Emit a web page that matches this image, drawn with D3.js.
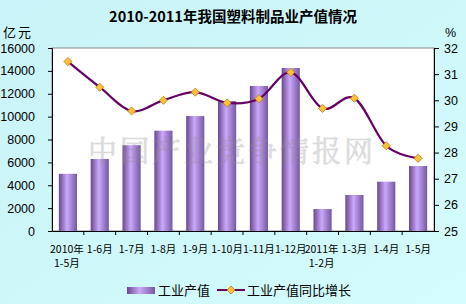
<!DOCTYPE html>
<html>
<head>
<meta charset="utf-8">
<script src="https://cdn.jsdelivr.net/npm/d3@7"></script>
<style>
  html, body { margin: 0; padding: 0; }
  svg { display: block; }
</style>
</head>
<body>
<svg id="chart" width="466" height="304"></svg>
<script>
// *************** DATA ***************
const categories = ["2010年1-5月", "1-6月", "1-7月", "1-8月", "1-9月", "1-10月",
                    "1-11月", "1-12月", "2011年1-2月", "1-3月", "1-4月", "1-5月"];
const outputValues = [5000, 6300, 7500, 8770, 10050, 11360, 12680, 14250, 1920, 3150, 4310, 5680];
const growthValues = [31.48, 30.5, 29.59, 30.0, 30.31, 29.9, 30.06, 31.07, 29.69, 30.08, 28.26, 27.78];
const leftTicks = [0, 2000, 4000, 6000, 8000, 10000, 12000, 14000, 16000];
const rightTicks = [25, 26, 27, 28, 29, 30, 31, 32];
const seriesNames = ["工业产值", "工业产值同比增长"];

// *************** CONSTANTS ***************
const width = 466,
      height = 304;

const plot = { left: 52, right: 434, top: 48, bottom: 231 };

const svg = d3.select("#chart");
const defs = svg.append("defs");

const latin = "'Liberation Sans', Arial, sans-serif",
      cjk = "'Noto Sans CJK SC', 'Liberation Sans', sans-serif";

const x = d3.scaleBand()
            .domain(categories)
            .range([plot.left, plot.right])
            .paddingInner(0.43)
            .paddingOuter(0.215);

const yLeft = d3.scaleLinear().domain([0, 16000]).range([plot.bottom, plot.top]);
const yRight = d3.scaleLinear().domain([25, 32]).range([plot.bottom, plot.top]);

// *************** BACKGROUND ***************
const bg = defs.append("linearGradient")
               .attr("id", "bg-grad")
               .attr("x1", "0%").attr("y1", "0%")
               .attr("x2", "100%").attr("y2", "100%");
bg.append("stop").attr("offset", "0%").attr("stop-color", "#c9f3f8");
bg.append("stop").attr("offset", "100%").attr("stop-color", "#d4fcfc");

const barGrad = defs.append("linearGradient")
                    .attr("id", "bar-grad")
                    .attr("x1", "0%").attr("y1", "0%")
                    .attr("x2", "100%").attr("y2", "0%");
barGrad.append("stop").attr("offset", "0%").attr("stop-color", "#67488e");
barGrad.append("stop").attr("offset", "45%").attr("stop-color", "#cba8fa");
barGrad.append("stop").attr("offset", "100%").attr("stop-color", "#7656a3");

svg.append("rect")
   .attr("width", width)
   .attr("height", height)
   .attr("fill", "url(#bg-grad)");

svg.append("rect")
   .attr("x", plot.left)
   .attr("y", plot.top)
   .attr("width", plot.right - plot.left)
   .attr("height", plot.bottom - plot.top)
   .attr("fill", "#ffffff")
   .attr("stroke", "#8a8a8a")
   .attr("stroke-width", 1);

// *************** TITLE ***************
svg.append("text")
   .attr("x", width / 2)
   .attr("y", 22)
   .attr("text-anchor", "middle")
   .attr("font-family", cjk)
   .attr("font-weight", "700")
   .attr("font-size", "14.5px")
   .text("2010-2011年我国塑料制品业产值情况");

svg.append("text")
   .attr("x", 3).attr("y", 37)
   .attr("font-family", cjk)
   .attr("font-size", "13px")
   .attr("letter-spacing", "2px")
   .text("亿元");

svg.append("text")
   .attr("x", 445).attr("y", 37)
   .attr("font-family", latin)
   .attr("font-size", "12.5px")
   .text("%");

// *************** BARS ***************
const g = svg.append("g");

g.selectAll("rect.bar")
 .data(outputValues)
 .join("rect")
 .attr("class", "bar")
 .attr("x", (d, i) => x(categories[i]))
 .attr("y", d => yLeft(d))
 .attr("width", x.bandwidth())
 .attr("height", d => plot.bottom - yLeft(d))
 .attr("fill", "url(#bar-grad)");

// *************** WATERMARK ***************
svg.append("text")
   .attr("x", 232)
   .attr("y", 162)
   .attr("text-anchor", "middle")
   .attr("font-family", "'Noto Serif CJK SC', 'Noto Sans CJK SC', serif")
   .attr("font-size", "29px")
   .attr("letter-spacing", "3px")
   .attr("fill", "#9a9a9a")
   .attr("stroke", "#8a8a8a")
   .attr("stroke-width", 0.6)
   .attr("opacity", 0.32)
   .text("中国产业竞争情报网");

// *************** LINE ***************
const line = d3.line()
               .x((d, i) => x(categories[i]) + x.bandwidth() / 2)
               .y(d => yRight(d))
               .curve(d3.curveCardinal.tension(0));

g.append("path")
 .datum(growthValues)
 .attr("d", line)
 .attr("fill", "none")
 .attr("stroke", "#660066")
 .attr("stroke-width", 2.2);

const diamond = d3.symbol().type(d3.symbolDiamond2).size(42);

g.selectAll("path.marker")
 .data(growthValues)
 .join("path")
 .attr("class", "marker")
 .attr("d", diamond)
 .attr("transform", (d, i) => `translate(${x(categories[i]) + x.bandwidth() / 2},${yRight(d)})`)
 .attr("fill", "#ffc13a")
 .attr("stroke", "#b57a10")
 .attr("stroke-width", 0.8);

// *************** AXES ***************
const leftAxis = svg.append("g")
                    .attr("transform", `translate(${plot.left},0)`)
                    .call(d3.axisLeft(yLeft)
                            .tickValues(leftTicks)
                            .tickFormat(d3.format("d"))
                            .tickSize(4)
                            .tickPadding(13));

const rightAxis = svg.append("g")
                     .attr("transform", `translate(${plot.right},0)`)
                     .call(d3.axisRight(yRight)
                             .tickValues(rightTicks)
                             .tickFormat(d3.format("d"))
                             .tickSize(5)
                             .tickPadding(5));

const bottomAxis = svg.append("g")
                      .attr("transform", `translate(0,${plot.bottom})`)
                      .call(d3.axisBottom(x).tickSize(0).tickFormat(""));

// category separators on the bottom axis
bottomAxis.selectAll("line.sep")
          .data(categories.slice(1))
          .join("line")
          .attr("class", "sep")
          .attr("x1", d => x(d) - x.step() * x.paddingInner() / 2)
          .attr("x2", d => x(d) - x.step() * x.paddingInner() / 2)
          .attr("y1", 0)
          .attr("y2", 4)
          .attr("stroke", "#000");

[leftAxis, rightAxis].forEach(ax => {
  ax.selectAll("text")
    .attr("font-family", latin)
    .attr("font-size", "12.5px")
    .attr("fill", "#000");
  ax.selectAll("line").attr("stroke", "#000");
  ax.select(".domain").attr("stroke", "#000");
});
bottomAxis.select(".domain").attr("stroke", "#000");

// category labels, year prefix wraps onto its own line
const catLabels = svg.append("g")
                     .attr("font-family", cjk)
                     .attr("font-size", "10.5px")
                     .attr("text-anchor", "middle");

categories.forEach(c => {
  const cx = x(c) + x.bandwidth() / 2;
  const m = c.match(/^(\d{4}年)(.*)$/);
  if (m) {
    catLabels.append("text").attr("x", cx - 1).attr("y", 253).text(m[1]);
    catLabels.append("text").attr("x", cx - 1).attr("y", 267).text(m[2]);
  } else {
    catLabels.append("text").attr("x", cx).attr("y", 253).text(c);
  }
});

// *************** LEGEND ***************
const legend = svg.append("g")
                  .attr("font-family", cjk)
                  .attr("font-size", "13px");

legend.append("rect")
      .attr("x", 127).attr("y", 287)
      .attr("width", 28).attr("height", 7)
      .attr("fill", "url(#bar-grad)");

legend.append("text")
      .attr("x", 158).attr("y", 295)
      .text(seriesNames[0]);

legend.append("line")
      .attr("x1", 217).attr("x2", 245)
      .attr("y1", 290).attr("y2", 290)
      .attr("stroke", "#660066")
      .attr("stroke-width", 2);

legend.append("path")
      .attr("d", diamond)
      .attr("transform", "translate(231,290)")
      .attr("fill", "#ffc13a")
      .attr("stroke", "#b57a10")
      .attr("stroke-width", 0.8);

legend.append("text")
      .attr("x", 247).attr("y", 295)
      .text(seriesNames[1]);
</script>
</body>
</html>
